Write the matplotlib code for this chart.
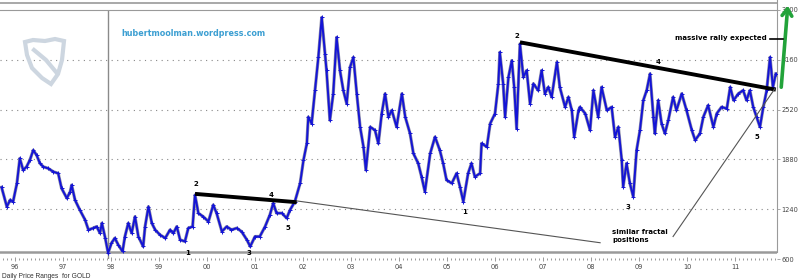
import numpy as np
import matplotlib
matplotlib.use("Agg")
import matplotlib.pyplot as plt
from matplotlib.patches import Polygon
from matplotlib.ticker import MultipleLocator

# gold price (decimal year, price)
years = [1995.72, 1995.83, 1995.90, 1995.96, 1996.04, 1996.10, 1996.17, 1996.24, 1996.31, 1996.38,
         1996.45, 1996.52, 1996.59, 1996.69, 1996.80, 1996.90, 1996.97, 1997.08, 1997.15, 1997.18,
         1997.25, 1997.35, 1997.46, 1997.53, 1997.63, 1997.70, 1997.77, 1997.81, 1997.88, 1997.94,
         1998.01, 1998.08, 1998.15, 1998.24, 1998.29, 1998.36, 1998.43, 1998.50, 1998.57, 1998.67,
         1998.71, 1998.78, 1998.85, 1998.92, 1999.02, 1999.13, 1999.23, 1999.30, 1999.37, 1999.44,
         1999.54, 1999.61, 1999.70, 1999.75, 1999.82, 1999.92, 2000.03, 2000.13, 2000.20, 2000.31,
         2000.41, 2000.51, 2000.62, 2000.72, 2000.83, 2000.90, 2001.00, 2001.10, 2001.21, 2001.31,
         2001.38, 2001.45, 2001.56, 2001.66, 2001.73, 2001.83, 2001.94, 2002.01, 2002.08, 2002.11,
         2002.18, 2002.25, 2002.32, 2002.39, 2002.46, 2002.49, 2002.56, 2002.63, 2002.70, 2002.77,
         2002.84, 2002.91, 2002.98, 2003.05, 2003.12, 2003.19, 2003.26, 2003.31, 2003.40, 2003.50,
         2003.57, 2003.64, 2003.71, 2003.78, 2003.85, 2003.95, 2004.06, 2004.13, 2004.23, 2004.30,
         2004.40, 2004.47, 2004.54, 2004.65, 2004.75, 2004.85, 2004.92, 2004.99, 2005.10, 2005.20,
         2005.27, 2005.34, 2005.44, 2005.51, 2005.58, 2005.69, 2005.72, 2005.83, 2005.90, 2006.00,
         2006.07, 2006.10, 2006.17, 2006.21, 2006.28, 2006.35, 2006.40, 2006.45, 2006.52, 2006.59,
         2006.66, 2006.73, 2006.80, 2006.90, 2006.97, 2007.04, 2007.11, 2007.18, 2007.29, 2007.35,
         2007.46, 2007.53, 2007.60, 2007.65, 2007.74, 2007.77, 2007.88, 2007.98, 2008.05, 2008.15,
         2008.22, 2008.33, 2008.43, 2008.50, 2008.57, 2008.64, 2008.67, 2008.74, 2008.81, 2008.88,
         2008.95, 2009.02, 2009.09, 2009.16, 2009.23, 2009.30, 2009.33, 2009.40, 2009.47, 2009.54,
         2009.61, 2009.71, 2009.78, 2009.89, 2009.99, 2010.10, 2010.17, 2010.27, 2010.34, 2010.44,
         2010.55, 2010.62, 2010.72, 2010.83, 2010.90, 2010.97, 2011.07, 2011.17, 2011.24, 2011.31,
         2011.38, 2011.45, 2011.52, 2011.59, 2011.66, 2011.73, 2011.79, 2011.85]
prices = [1522, 1273, 1359, 1337, 1573, 1893, 1743, 1785, 1871, 1999,
          1935, 1829, 1785, 1765, 1721, 1701, 1509, 1381, 1465, 1551,
          1359, 1231, 1103, 975, 997, 1017, 933, 1061, 869, 677,
          805, 869, 783, 697, 889, 1061, 933, 1145, 889, 761,
          1017, 1273, 1061, 975, 911, 869, 975, 933, 1017, 847,
          825, 997, 1017, 1423, 1189, 1145, 1081, 1295, 1189, 953,
          1017, 975, 997, 953, 847, 761, 889, 889, 1017, 1167,
          1317, 1189, 1189, 1125, 1231, 1337, 1573, 1871, 2085, 2425,
          2341, 2767, 3193, 3705, 3237, 3023, 2383, 2725, 3449, 3023,
          2767, 2597, 3065, 3193, 2725, 2297, 2041, 1743, 2297, 2255,
          2085, 2469, 2725, 2425, 2511, 2297, 2725, 2425, 2213, 1957,
          1829, 1657, 1465, 1957, 2169, 1999, 1829, 1615, 1573, 1701,
          1529, 1337, 1701, 1829, 1657, 1701, 2085, 2041, 2341, 2469,
          2853, 3257, 2853, 2425, 2937, 3151, 2809, 2277, 3365, 2937,
          3023, 2597, 2853, 2767, 3023, 2725, 2809, 2681, 3129, 2809,
          2553, 2681, 2511, 2169, 2511, 2553, 2469, 2255, 2767, 2425,
          2809, 2511, 2553, 2169, 2297, 1871, 1529, 1829, 1573, 1401,
          1999, 2255, 2639, 2767, 2981, 2425, 2213, 2639, 2341, 2213,
          2383, 2681, 2511, 2725, 2511, 2255, 2127, 2213, 2425, 2575,
          2297, 2469, 2553, 2533, 2809, 2639, 2725, 2767, 2639, 2767,
          2553, 2425, 2297, 2553, 2767, 3193, 2809, 2981]

# trendlines drawn on the chart (year, price) pairs
trend_a = ([1999.75, 2001.87], [1437, 1330])
link_a = ([2001.875, 2008.19], [1346, 809])
trend_b = ([2006.52, 2011.85], [3385, 2776])
link_b = ([2009.71, 2011.83], [889, 2789])

# wave labels: (label, year, price)
waves = [("1", 1999.59, 677), ("2", 1999.77, 1564), ("3", 2000.88, 677), ("4", 2001.33, 1423),
         ("5", 2001.68, 997), ("1", 2005.375, 1202), ("2", 2006.46, 3471), ("3", 2008.78, 1273),
         ("4", 2009.40, 3138), ("5", 2011.45, 2169)]

yticks = [600, 1240, 1880, 2520, 3160, 3800]
xyears = list(range(1996, 2012))

W, H = 800, 280
fig = plt.figure(figsize=(8, 2.8), dpi=100)
ax = fig.add_axes([0, 1 - 259 / H, 777 / W, 249 / H])
ax.set_xlim(1995.6875, 2011.875)
ax.set_ylim(600, 3800)


def fp(x, y):
    # image pixel (from top-left) -> figure pixels
    return (x, H - y)


# grid
for v in yticks[1:-1]:
    ax.axhline(v, color="#888888", lw=0.8, ls=(0, (1, 4)), zorder=1)
ax.axvline(1997.94, color="#8a8a8a", lw=1.0, zorder=1)
ax.axhline(687, color="#9a9a9a", lw=1.8, zorder=1)

# watermark logo
shield = [(25, 42), (33, 40), (45, 41), (55, 39), (64, 41), (62, 60), (58, 74), (51, 84),
          (42, 78), (32, 68), (27, 55)]
fig.patches.append(Polygon([fp(*p) for p in shield], closed=True, fill=False, ec="#cdd6e0", lw=3,
                           transform=None, figure=fig))
fig.lines.append(plt.Line2D([fp(34, 50)[0], fp(46, 60)[0], fp(56, 72)[0]],
                            [fp(34, 50)[1], fp(46, 60)[1], fp(56, 72)[1]],
                            color="#cdd6e0", lw=3, transform=None, figure=fig))

# price: grey halo with blue on top, like the daily range bars
ax.plot(years, prices, color="#8c8ca8", lw=2.3, zorder=2)
ax.plot(years, prices, color="#1414d6", lw=1.4, marker="+", ms=2.5, mew=0.7, zorder=3)

# trendlines
ax.plot(*trend_a, color="black", lw=2.8, zorder=4, solid_capstyle="butt")
ax.plot(*trend_b, color="black", lw=2.8, zorder=4, solid_capstyle="butt")
ax.plot(*link_a, color="#555555", lw=0.8, zorder=4)
ax.plot(*link_b, color="#555555", lw=0.8, zorder=4)

for lab, yr, pr in waves:
    ax.text(yr, pr, lab, fontsize=5, fontweight="bold", ha="center", va="center", zorder=5)

# axes styling
for s in ("left", "bottom"):
    ax.spines[s].set_visible(False)
ax.spines["top"].set_color("#9a9a9a")
ax.spines["right"].set_color("#9a9a9a")
ax.spines["right"].set_bounds(687, 3800)
ax.yaxis.tick_right()
ax.set_yticks(yticks)
ax.set_yticklabels([str(v) for v in yticks])
ax.tick_params(axis="y", length=2, width=0.6, color="#9a9a9a", labelsize=4.8, pad=1, labelcolor="#444444")
ax.set_xticks(xyears)
ax.set_xticklabels([f"{y % 100:02d}" for y in xyears])
ax.xaxis.set_minor_locator(MultipleLocator(1 / 12))
ax.tick_params(axis="x", which="major", length=3, width=0.6, color="#888888", labelsize=4.8, pad=2,
               labelcolor="#444444", direction="inout")
ax.tick_params(axis="x", which="minor", length=1.2, width=0.6, color="#888888", direction="inout")
ax.axhline(600, color="#bbbbbb", lw=0.5, ls=(0, (1, 2)), zorder=1)

# top separator
fig.lines.append(plt.Line2D([0, 777], [H - 3, H - 3], color="#9a9a9a", lw=1.2, transform=None, figure=fig))
fig.lines.append(plt.Line2D([777, 777], [H - 10, H], color="#9a9a9a", lw=0.8, transform=None, figure=fig))

# texts
fig.text(193 / W, 1 - 34 / H, "hubertmoolman.wordpress.com", fontsize=5.8, fontweight="bold",
         color="#3c9fd2", ha="center", va="center")
fig.text(767 / W, 1 - 38 / H, "massive rally expected", fontsize=5, fontweight="bold",
         ha="right", va="center")
fig.lines.append(plt.Line2D([770, 783], [H - 39, H - 39], color="black", lw=1.2, transform=None, figure=fig))
fig.text(612 / W, 1 - 236 / H, "similar fractal\npositions", fontsize=5, fontweight="bold",
         ha="left", va="center", linespacing=1.4)
fig.text(2 / W, 1 - 276 / H, "Daily Price Ranges  for GOLD", fontsize=4.8, color="#333333",
         ha="left", va="center", family="Liberation Sans")

ax.annotate("", xy=fp(788, 3), xytext=fp(781, 90), xycoords="figure pixels", textcoords="figure pixels",
            arrowprops=dict(arrowstyle="->,head_length=0.5,head_width=0.35", color="#22a33a", lw=2.6),
            annotation_clip=False)

fig.savefig("out.png", dpi=100)
